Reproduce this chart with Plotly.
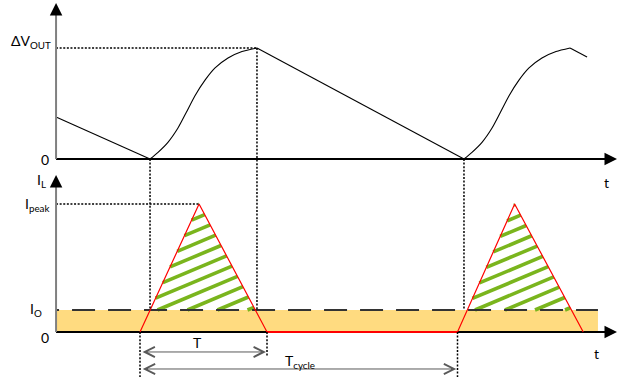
import plotly.graph_objects as go

# ---------------------------------------------------------------------------
# Values (time in units of the inductor on-time T, output ripple normalised
# to its peak, inductor current normalised to I_peak)
# ---------------------------------------------------------------------------
T_ON = 1.0
T_CYCLE = 2.5
I_O = 0.172
I_PEAK = 1.0

# inductor current: two triangular pulses with a flat zero section between
il_t = [0.0, 0.465, 1.0, 2.5, 2.95, 3.49]
il_v = [0.0, 1.0, 0.0, 0.0, 1.0, 0.0]

# output voltage ripple
ramp1_t = [-0.661, 0.079]
ramp1_v = [0.378, 0.0]
rise1_t = [0.079, 0.142, 0.220, 0.299, 0.362, 0.433, 0.512, 0.591, 0.693, 0.803, 0.921]
rise1_v = [0.0, 0.060, 0.150, 0.279, 0.414, 0.570, 0.710, 0.820, 0.910, 0.968, 1.0]
ramp2_t = [0.921, 2.551]
ramp2_v = [1.0, 0.0]
rise2_t = [2.551, 2.614, 2.693, 2.772, 2.835, 2.906, 2.984, 3.063, 3.165, 3.276, 3.386]
rise2_v = [0.0, 0.060, 0.150, 0.279, 0.414, 0.570, 0.710, 0.820, 0.910, 0.968, 1.0]
tail_t = [3.386, 3.520]
tail_v = [1.0, 0.919]

# ---------------------------------------------------------------------------
# Layout geometry
# ---------------------------------------------------------------------------
W, H = 621, 377
X0_PX, SX = 140.0, 127.0        # pixel of t = 0, pixels per time unit
V0_PX, SV = 159.0, 111.0        # pixel of v = 0 (upper panel), pixels per unit
I0_PX, SI = 332.0, 128.0        # pixel of i = 0 (lower panel), pixels per unit

X_RANGE = [(0 - X0_PX) / SX, (W - X0_PX) / SX]
V_RANGE = [(V0_PX - H) / SV, V0_PX / SV]
I_RANGE = [(I0_PX - H) / SI, I0_PX / SI]

T_AXIS = -0.661                 # time position of the vertical axes
T_ARROW = 3.756                 # tip of the time axes
V_ARROW = 1.405
I_ARROW = 1.227
FILL_END = 3.606

FONT = "Lato"
RED = "#ff0000"
GREEN = "#7ab51d"
ORANGE = "#ffdb80"
DOT = "2px,1.6px"


def v_to_i(v):
    """Express an upper-panel value in lower-panel units (same screen height)."""
    py = V0_PX - v * SV
    return (I0_PX - py) / SI


fig = go.Figure()


def line(x, y, color="black", width=1.0, dash=None, axis="y", shape="linear", smoothing=0.7):
    fig.add_trace(go.Scatter(
        x=x, y=y, mode="lines", yaxis=axis, hoverinfo="skip", showlegend=False,
        line=dict(color=color, width=width, dash=dash, shape=shape, smoothing=smoothing),
    ))


# ---- lower panel: load current band ---------------------------------------
fig.add_trace(go.Scatter(
    x=[T_AXIS, FILL_END, FILL_END, T_AXIS, T_AXIS],
    y=[0, 0, I_O, I_O, 0],
    mode="lines", fill="toself", fillcolor=ORANGE, line=dict(width=0),
    yaxis="y2", hoverinfo="skip", showlegend=False,
))

# ---- hatching of the charge delivered above I_O --------------------------
HATCH_SLOPE = 0.42      # rise per pixel of run
HATCH_GAP = 30.0        # horizontal spacing of stripes along the I_O line
HATCH_PHASE = 17.5      # first stripe offset from the pulse start


def clip_line(p0, d, poly):
    s_lo, s_hi = -1e9, 1e9
    cx = sum(p[0] for p in poly) / len(poly)
    cy = sum(p[1] for p in poly) / len(poly)
    for a, b in zip(poly, poly[1:] + poly[:1]):
        ex, ey = b[0] - a[0], b[1] - a[1]
        n = (-ey, ex)
        if n[0] * (cx - a[0]) + n[1] * (cy - a[1]) < 0:
            n = (ey, -ex)
        num = n[0] * (p0[0] - a[0]) + n[1] * (p0[1] - a[1])
        den = n[0] * d[0] + n[1] * d[1]
        if abs(den) < 1e-12:
            if num < 0:
                return None
            continue
        s = -num / den
        if den > 0:
            s_lo = max(s_lo, s)
        else:
            s_hi = min(s_hi, s)
    if s_hi <= s_lo:
        return None
    return ((p0[0] + s_lo * d[0], p0[1] + s_lo * d[1]),
            (p0[0] + s_hi * d[0], p0[1] + s_hi * d[1]))


def hatch(t_start, t_peak, t_end):
    px = lambda t, i: (X0_PX + t * SX, I0_PX - i * SI)
    A, P, B = px(t_start, 0), px(t_peak, I_PEAK), px(t_end, 0)
    y_io = I0_PX - I_O * SI

    def cross(p, q):
        f = (y_io - p[1]) / (q[1] - p[1])
        return (p[0] + f * (q[0] - p[0]), y_io)

    poly = [cross(A, P), P, cross(B, P)]
    xs, ys = [], []
    for k in range(-12, 12):
        seg = clip_line((A[0] + HATCH_PHASE + k * HATCH_GAP, y_io), (1.0, -HATCH_SLOPE), poly)
        if seg is None:
            continue
        for qx, qy in seg:
            xs.append((qx - X0_PX) / SX)
            ys.append((I0_PX - qy) / SI)
        xs.append(None)
        ys.append(None)
    return xs, ys


hx, hy = [], []
for k in (0, 3):
    sx, sy = hatch(il_t[k], il_t[k + 1], il_t[k + 2])
    hx += sx
    hy += sy
line(hx, hy, color=GREEN, width=3.6, axis="y2")

# dashed I_O level (dash pattern phased from the axis)
io_dash = "3px,13px," + ",".join(["23px,13px"] * 20)
line([T_AXIS, FILL_END], [I_O, I_O], color="#333333", width=2, dash=io_dash, axis="y2")

# time axes
line([T_AXIS, T_ARROW - 0.05], [0, 0], width=2, axis="y")
line([T_AXIS, T_ARROW - 0.05], [0, 0], width=2, axis="y2")

# inductor current
line(il_t, il_v, color=RED, width=1.2, axis="y2")
line(il_t[2:4], il_v[2:4], color=RED, width=2, axis="y2")

# output ripple
line(ramp1_t, ramp1_v, width=1.1)
line(rise1_t, rise1_v, width=1.1, shape="spline")
line(ramp2_t, ramp2_v, width=1.1)
line(rise2_t, rise2_v, width=1.1, shape="spline")
line(tail_t, tail_v, width=1.1)

# dotted guides
line([T_AXIS, rise1_t[-1]], [1.0, 1.0], width=1.5, dash=DOT)
line([T_AXIS, il_t[1]], [I_PEAK, I_PEAK], width=1.5, dash=DOT, axis="y2")
for t_g, v_g in ((rise1_t[0], 0.0), (rise1_t[-1], 1.0), (rise2_t[0], 0.0)):
    line([t_g, t_g], [v_to_i(v_g), I_O], width=1.5, dash=DOT, axis="y2")
line([il_t[0], il_t[0]], [0, I_RANGE[0]], width=1.5, dash=DOT, axis="y2")
line([il_t[2], il_t[2]], [0, -0.195], width=1.5, dash=DOT, axis="y2")
line([il_t[3], il_t[3]], [0, I_RANGE[0]], width=1.5, dash=DOT, axis="y2")

# vertical axes (grey shaft, black head)
line([T_AXIS, T_AXIS], [0, V_ARROW - 0.08], color="#808080", width=2)
line([T_AXIS, T_AXIS], [0, I_ARROW - 0.07], color="#808080", width=2, axis="y2")

annotations = []


def arrow(x, y, ax, ay, yref, **kw):
    d = dict(x=x, y=y, ax=ax, ay=ay, xref="x", yref=yref, axref="x", ayref=yref,
             text="", showarrow=True, arrowhead=2, arrowsize=1.25, arrowwidth=2,
             arrowcolor="black")
    d.update(kw)
    annotations.append(d)


arrow(T_ARROW, 0, T_ARROW - 0.1, 0, "y")
arrow(T_ARROW, 0, T_ARROW - 0.1, 0, "y2")
arrow(T_AXIS, V_ARROW, T_AXIS, V_ARROW - 0.1, "y")
arrow(T_AXIS, I_ARROW, T_AXIS, I_ARROW - 0.09, "y2")

# dimension arrows for T and T_cycle
DIM = dict(arrowhead=5, startarrowhead=5, arrowside="end+start", arrowsize=2.0,
           startarrowsize=2.0, arrowwidth=1, arrowcolor="#595959")
arrow(T_ON - 0.008, -0.156, 0.008, -0.156, "y2", **DIM)
arrow(T_CYCLE - 0.01, -0.289, 0.01, -0.289, "y2", **DIM)


def label(text, x, y, yref, xanchor="center", xshift=0, size=14):
    annotations.append(dict(text=text, x=x, y=y, xref="x", yref=yref,
                            xanchor=xanchor, yanchor="middle", xshift=xshift,
                            showarrow=False, font=dict(family=FONT, size=size, color="black")))


label("ΔV<sub>OUT</sub>", T_AXIS, 1.06, "y", xanchor="right", xshift=-3)
label("0", T_AXIS, 0.0, "y", xanchor="right", xshift=-5)
label("t", 3.677, -0.21, "y")
label("I<sub>L</sub>", T_AXIS, 1.18, "y2", xanchor="right", xshift=-8)
label("I<sub>peak</sub>", T_AXIS, I_PEAK, "y2", xanchor="right", xshift=-5)
label("I<sub>O</sub>", T_AXIS, I_O, "y2", xanchor="right", xshift=-12)
label("0", T_AXIS, -0.04, "y2", xanchor="right", xshift=-5)
label("t", 3.598, -0.165, "y2")
label("T", 0.45, -0.08, "y2")
label("T<sub>cycle</sub>", 1.26, -0.232, "y2")

hidden = dict(visible=False, showgrid=False, zeroline=False, fixedrange=True)
fig.update_layout(
    width=W, height=H,
    margin=dict(l=0, r=0, t=0, b=0),
    paper_bgcolor="white", plot_bgcolor="white",
    xaxis=dict(range=X_RANGE, **hidden),
    yaxis=dict(range=V_RANGE, **hidden),
    yaxis2=dict(range=I_RANGE, overlaying="y", **hidden),
    annotations=annotations,
    showlegend=False,
)

fig.write_html("out.html")
